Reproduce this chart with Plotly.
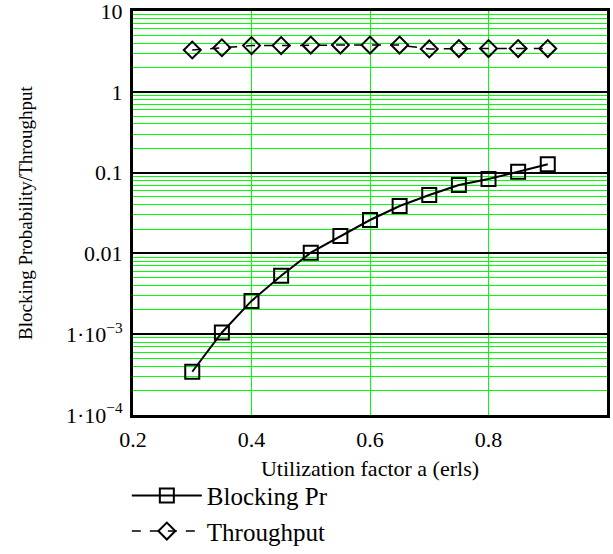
import plotly.graph_objects as go

# Data
util = [0.30, 0.35, 0.40, 0.45, 0.50, 0.55, 0.60, 0.65, 0.70, 0.75, 0.80, 0.85, 0.90]
blocking = [3.43e-4, 1.05e-3, 2.58e-3, 5.3e-3, 0.0102, 0.0164, 0.0259, 0.0386,
            0.0528, 0.0703, 0.0834, 0.1026, 0.1268]
throughput = [3.29, 3.51, 3.73, 3.73, 3.79, 3.79, 3.79, 3.79, 3.39, 3.43, 3.43, 3.43, 3.43]

x_ticks = [0.2, 0.4, 0.6, 0.8]
x_tick_text = ["0.2", "0.4", "0.6", "0.8"]
y_ticks = [1e-4, 1e-3, 0.01, 0.1, 1, 10]
y_tick_text = ["1·10<sup>−4</sup>", "1·10<sup>−3</sup>", "0.01", "0.1", "1", "10"]
y_minor = [m * d for d in [1e-4, 1e-3, 0.01, 0.1, 1] for m in [2, 3, 4, 5, 6, 7, 8, 9]]

FONT = "Liberation Serif, Times New Roman, serif"
GREEN = "#00ff00"

fig = go.Figure()
fig.add_trace(go.Scatter(
    x=util, y=blocking, name="Blocking Pr", mode="lines+markers",
    line=dict(color="black", width=2),
    marker=dict(symbol="square-open", size=14, color="black", line=dict(width=2)),
))
fig.add_trace(go.Scatter(
    x=util, y=throughput, name="Throughput", mode="lines+markers",
    line=dict(color="black", width=1.5, dash="dash"),
    marker=dict(symbol="diamond-open", size=13, color="black", line=dict(width=2)),
))

fig.update_layout(
    width=613, height=554,
    margin=dict(l=133, r=6, t=11, b=139, autoexpand=False),
    paper_bgcolor="white", plot_bgcolor="white",
    font=dict(family=FONT, color="black"),
    showlegend=True,
    legend=dict(
        x=-0.013, xanchor="left", y=-0.143, yanchor="top",
        font=dict(size=25, family=FONT, color="black"),
        bgcolor="rgba(0,0,0,0)", itemwidth=70, tracegroupgap=0,
    ),
    annotations=[dict(
        text="Blocking Probability/Throughput", textangle=-90,
        xref="paper", yref="paper", x=0, y=0.5, xanchor="center", yanchor="middle",
        xshift=-108, showarrow=False, font=dict(size=19, family=FONT, color="black"),
    )],
)

fig.update_xaxes(
    range=[0.2, 1.0], tickvals=x_ticks, ticktext=x_tick_text,
    tickfont=dict(size=22, family=FONT), automargin=False, ticklabelstandoff=3,
    showgrid=True, gridcolor=GREEN, gridwidth=1,
    showline=True, mirror=True, linecolor="black", linewidth=3,
    ticks="", zeroline=False, ticklabeloverflow="allow",
    title=dict(text="Utilization factor a (erls)", font=dict(size=22, family=FONT), standoff=10),
)
fig.update_yaxes(
    type="log", range=[-4, 1], tickvals=y_ticks, ticktext=y_tick_text,
    tickfont=dict(size=22, family=FONT), automargin=False, ticklabelstandoff=3,
    showgrid=True, gridcolor="black", gridwidth=2,
    minor=dict(showgrid=True, gridcolor=GREEN, gridwidth=1, ticks="",
               tickmode="array", tickvals=y_minor),
    showline=True, mirror=True, linecolor="black", linewidth=3,
    ticks="", zeroline=False, ticklabeloverflow="allow",
)

fig.write_html("out.html", config={"displayModeBar": False},
               post_script="document.body.style.margin='0';")
